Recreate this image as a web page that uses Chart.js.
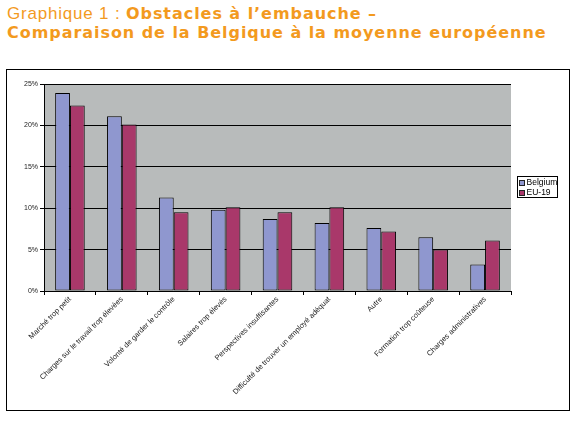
<!DOCTYPE html>
<html>
<head>
<meta charset="utf-8">
<script src="https://cdn.jsdelivr.net/npm/chart.js@4"></script>
<style>
  body { margin: 0; background: #fff; width: 580px; height: 425px; overflow: hidden; }
  #title {
    position: absolute; left: 7px; top: 4px;
    font-family: "DejaVu Sans", sans-serif;
    font-size: 16px; line-height: 19px; color: #F39A1E;
    letter-spacing: 0.95px;
  }
  #title .light { font-family: "Liberation Sans", Arial, sans-serif; font-weight: normal; font-size: 17px; letter-spacing: 0.8px; }
  #title b { font-weight: bold; }
  #box {
    position: absolute; left: 6px; top: 69px;
    width: 562px; height: 340px; border: 1px solid #000;
  }
</style>
</head>
<body>
<div id="title"><span class="light">Graphique 1 : </span><b>Obstacles à l’embauche –</b><br><b>Comparaison de la Belgique à la moyenne européenne</b></div>
<div id="box"><canvas id="chart" width="562" height="340"></canvas></div>
<script>
const categories = [
  'Marché trop petit',
  'Charges sur le travail trop élevées',
  'Volonté de garder le contrôle',
  'Salaires trop élevés',
  'Perspectives insuffisantes',
  'Difficulté de trouver un employé adéquat',
  'Autre',
  'Formation trop coûteuse',
  'Charges administratives'
];
const belgium = [23.9, 21.1, 11.3, 9.8, 8.7, 8.2, 7.6, 6.5, 3.2];
const eu19 = [22.4, 20.1, 9.5, 10.1, 9.5, 10.1, 7.2, 5.0, 6.1];
const yTicks = [0, 5, 10, 15, 20, 25];

const FONT = '"Liberation Sans", Arial, sans-serif';

// grey plot area like the old Excel chart
const plotBg = {
    id: 'plotBg',
    beforeDraw(chart) {
        const a = chart.chartArea, ctx = chart.ctx;
        ctx.save();
        ctx.fillStyle = '#B8BBBB';
        ctx.fillRect(a.left, a.top, a.right - a.left, a.bottom - a.top);
        ctx.restore();
    }
};

// small boxed legend on the right
const boxLegend = {
    id: 'boxLegend',
    afterDraw(chart) {
        const a = chart.chartArea, ctx = chart.ctx;
        const sets = chart.data.datasets;
        const rowH = 10, w = 40, h = sets.length * rowH + 1;
        const x = Math.round(a.right + 6) + 0.5;
        const y = Math.round((a.top + a.bottom) / 2 - h / 2) - 0.5;
        ctx.save();
        ctx.fillStyle = '#fff';
        ctx.fillRect(x, y, w, h);
        ctx.strokeStyle = '#000';
        ctx.lineWidth = 1;
        ctx.strokeRect(x, y, w, h);
        ctx.font = '8.5px ' + FONT;
        ctx.textBaseline = 'middle';
        sets.forEach((ds, i) => {
            const cy = y + 1 + rowH * i + rowH / 2;
            ctx.fillStyle = ds.backgroundColor;
            ctx.fillRect(x + 2, Math.round(cy - 3), 5, 5);
            ctx.strokeStyle = '#222';
            ctx.strokeRect(x + 2, Math.round(cy - 3) + 0.5, 5, 5);
            ctx.fillStyle = '#000';
            ctx.fillText(ds.label, x + 9, cy);
        });
        ctx.restore();
    }
};

new Chart(document.getElementById('chart').getContext('2d'), {
    type: 'bar',
    data: {
        labels: categories,
        datasets: [
            { label: 'Belgium', data: belgium, backgroundColor: '#8F97CF' },
            { label: 'EU-19', data: eu19, backgroundColor: '#A9386A' }
        ].map(d => ({ ...d, borderColor: '#000', borderWidth: 1, borderSkipped: false,
                      categoryPercentage: 0.57, barPercentage: 1.0 }))
    },
    options: {
        responsive: false,
        animation: false,
        layout: { padding: { top: 14, right: 58, bottom: 0, left: 0 } },
        plugins: { legend: { display: false }, tooltip: { enabled: false } },
        scales: {
            x: {
                grid: { display: true, drawOnChartArea: false, color: '#000', tickLength: 4, offset: true },
                border: { color: '#000' },
                ticks: { minRotation: 45, maxRotation: 45, autoSkip: false, color: '#222',
                         font: { family: FONT, size: 7.5 }, padding: 0 },
                afterFit(scale) { scale.height = 119; }
            },
            y: {
                min: 0, max: 25,
                afterBuildTicks(scale) { scale.ticks = yTicks.map(v => ({ value: v })); },
                grid: { color: '#000', tickLength: 4 },
                border: { color: '#000' },
                ticks: { color: '#222', font: { family: FONT, size: 7 }, padding: 2,
                         callback: v => v + '%' },
                afterFit(scale) { scale.width = 37; }
            }
        }
    },
    plugins: [plotBg, boxLegend]
});
</script>
</body>
</html>
